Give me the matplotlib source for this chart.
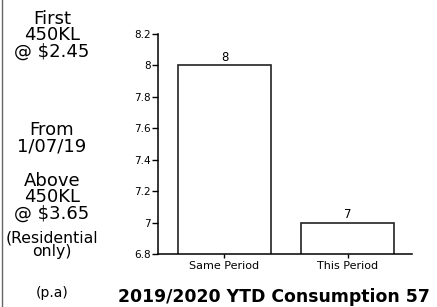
import matplotlib.pyplot as plt
from matplotlib.ticker import FuncFormatter

# data
periods = ["Same Period", "This Period"]
usage = [8, 7]
y_ticks = [6.8, 7, 7.2, 7.4, 7.6, 7.8, 8, 8.2]
title = "2019/2020 YTD Consumption 57"

plt.rcParams['font.family'] = ['DejaVu Sans']

fig = plt.figure(figsize=(4.37, 3.07), dpi=100)
W, H = 437, 307

# axes placed in pixel terms
left, right, top, bottom = 158, 412, 34, 254
ax = fig.add_axes([left / W, 1 - bottom / H, (right - left) / W, (bottom - top) / H])

x = [0, 1]
ax.bar(x, usage, width=0.75, color="white", edgecolor="#222222", linewidth=1.2)
ax.set_ylim(6.8, 8.2)
ax.set_xlim(-0.54, 1.524)
ax.set_yticks(y_ticks)
ax.yaxis.set_major_formatter(FuncFormatter(lambda v, p: f"{v:g}"))
ax.set_xticks(x)
ax.set_xticklabels(periods, fontsize=8)
ax.tick_params(axis="y", labelsize=7.5, length=4, width=1, pad=1)
ax.tick_params(axis="x", length=3, width=1, pad=2)
for s in ["top", "right"]:
    ax.spines[s].set_visible(False)
ax.spines["left"].set_linewidth(1.1)
ax.spines["bottom"].set_linewidth(1.1)

for xi, v in zip(x, usage):
    ax.text(xi, v + 0.01, f"{v}", ha="center", va="bottom", fontsize=8.5)

# left-hand notes
cx = 52 / W
fig.text(cx, 1 - 35 / H, "First\n450KL\n@ $2.45", ha="center", va="center",
         fontsize=13, linespacing=0.88)
fig.text(cx, 1 - 138 / H, "From\n1/07/19", ha="center", va="center",
         fontsize=13, linespacing=0.88)
fig.text(cx, 1 - 197 / H, "Above\n450KL\n@ $3.65", ha="center", va="center",
         fontsize=13, linespacing=0.88)
fig.text(cx, 1 - 245 / H, "(Residential\nonly)", ha="center", va="center",
         fontsize=11.3, linespacing=0.88)
fig.text(cx, 1 - 293 / H, "(p.a)", ha="center", va="center", fontsize=10)

fig.text(274 / W, 1 - 297 / H, title, ha="center", va="center",
         fontsize=12.4, fontweight="bold")

# page border on the left
fig.add_artist(plt.Line2D([2 / W, 2 / W], [0, 1], color="#666666", linewidth=1.0,
                          transform=fig.transFigure))

fig.savefig("out.png", dpi=100)
